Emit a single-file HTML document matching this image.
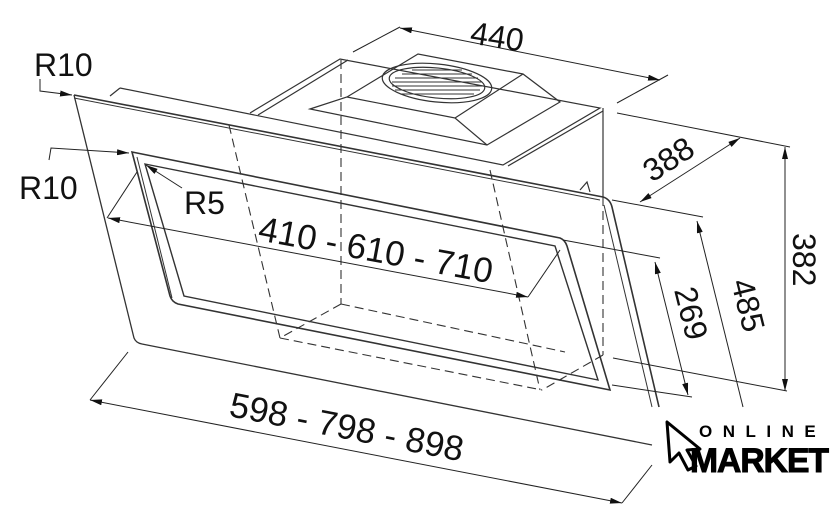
<!DOCTYPE html>
<html><head><meta charset="utf-8"><style>
html,body{margin:0;padding:0;background:#fff;}
svg{display:block;}
text{font-family:"Liberation Sans",sans-serif;fill:#111;}
</style></head><body>
<svg width="840" height="531" viewBox="0 0 840 531" xmlns="http://www.w3.org/2000/svg">
<defs>
<marker id="a" viewBox="0 0 12 6" refX="12" refY="3" markerWidth="12" markerHeight="6" orient="auto-start-reverse" markerUnits="userSpaceOnUse"><path d="M0,0 L12,3 L0,6 z" fill="#111"/></marker>
</defs>
<g fill="none" stroke="#333" stroke-width="1.2">
<path d="M120,88 L503,165 L600,108 L340,59 L250,113"/>
<path d="M348,60 L258,115"/>
<path d="M508,166 L603,111"/>
<path d="M110,96 L120,88"/>
<line x1="603" y1="108" x2="603" y2="197"/>
<path d="M580,190 L587,182 L590,192"/>
<path d="M310,109 L347,97 L418,54 L523,74 L560,102 L487,145 L310,109 Z"/>
<path d="M347,97 L455,118 L523,74"/>
<path d="M455,118 L487,145"/>
<ellipse cx="437" cy="83" rx="55" ry="19" transform="rotate(6 437 83)"/>
<ellipse cx="437" cy="83" rx="48" ry="15" transform="rotate(6 437 83)"/>
<g stroke-width="1">
<line x1="395" y1="78" x2="478" y2="78"/><line x1="392" y1="82" x2="482" y2="82"/>
<line x1="392" y1="86" x2="482" y2="86"/><line x1="395" y1="90" x2="480" y2="90"/>
<line x1="400" y1="94" x2="474" y2="94"/><line x1="402" y1="74" x2="472" y2="74"/>
<line x1="412" y1="70" x2="462" y2="70"/>
</g>
<g stroke-dasharray="9,5" stroke-width="1.1">
<line x1="229" y1="125" x2="280" y2="338"/>
<line x1="341" y1="60" x2="341" y2="304"/>
<line x1="341" y1="304" x2="565" y2="352"/>
<line x1="280" y1="338" x2="542" y2="390"/>
<line x1="341" y1="304" x2="280" y2="338"/>
<line x1="603" y1="197" x2="603" y2="355"/>
<line x1="603" y1="355" x2="542" y2="390"/>
<line x1="490" y1="170" x2="540" y2="390"/>
</g>
<path d="M74,95 L603,197 Q610,199 612,207 L659,407" stroke-width="1.6"/>
<path d="M74,98 L600,200" stroke-width="1"/>
<path d="M604,205 L652,407" stroke-width="1"/>
<path d="M74,95 L134,338 Q136,343 142,344 L652,445" stroke-width="1.3"/>
<path d="M132,152 L560,238 Q565,240 567,246 L610,390 L178,304 Q172,302 170,296 Z" stroke-width="1.6"/>
<path d="M145,164 L555,246 L598,380 L184,296 Z" stroke-width="1.4"/>
<path d="M137,157 L172,298" stroke-width="1"/>
<g stroke-width="1" stroke="#222">
<line x1="400" y1="28" x2="660" y2="80" marker-start="url(#a)" marker-end="url(#a)"/>
<line x1="353" y1="52" x2="400" y2="27"/>
<line x1="617" y1="103" x2="668" y2="75"/>
<line x1="640" y1="202" x2="740" y2="138" marker-start="url(#a)" marker-end="url(#a)"/>
<line x1="617" y1="113" x2="790" y2="147"/>
<line x1="612" y1="200" x2="703" y2="217"/>
<line x1="785" y1="147" x2="785" y2="391" marker-start="url(#a)" marker-end="url(#a)"/>
<line x1="613" y1="358" x2="787" y2="391"/>
<line x1="697" y1="221" x2="743" y2="407" marker-start="url(#a)"/>
<line x1="655" y1="262" x2="688" y2="395" marker-start="url(#a)" marker-end="url(#a)"/>
<line x1="563" y1="240" x2="660" y2="258"/>
<line x1="612" y1="385" x2="692" y2="397"/>
<line x1="108" y1="218" x2="528" y2="297" marker-start="url(#a)" marker-end="url(#a)"/>
<line x1="107" y1="218" x2="137" y2="172"/>
<line x1="528" y1="297" x2="560" y2="250"/>
<line x1="90" y1="400" x2="622" y2="503" marker-start="url(#a)" marker-end="url(#a)"/>
<line x1="90" y1="400" x2="128" y2="352"/>
<line x1="622" y1="503" x2="652" y2="465"/>
<path d="M40,79 L40,91 L72,95" marker-end="url(#a)"/>
<path d="M49,160 L51,148 L129,153" marker-end="url(#a)"/>
<line x1="182" y1="188" x2="146" y2="165" marker-end="url(#a)"/>
</g>
</g>
<g font-size="32">
<text x="34" y="76">R10</text>
<text x="19" y="199">R10</text>
<text x="184" y="214">R5</text>
<text x="470" y="48" transform="rotate(9 500 40)">440</text>
<text x="0" y="0" transform="translate(652,183) rotate(-33)">388</text>
<text x="0" y="0" transform="translate(793,233) rotate(90)">382</text>
<text x="0" y="0" transform="translate(731,282) rotate(76)">485</text>
<text x="0" y="0" transform="translate(674,290) rotate(76)">269</text>
<text x="0" y="0" transform="translate(257,240) rotate(10.5)" font-size="35">410 - 610 - 710</text>
<text x="0" y="0" transform="translate(228,416) rotate(11)" font-size="35">598 - 798 - 898</text>
</g>
<path d="M667,422 L670,462 L679,453 L688,470 L696,466 L687,450 L700,449 Z" fill="#fff" stroke="#000" stroke-width="3" stroke-linejoin="round"/>
<text x="699" y="437" font-size="17" font-weight="bold" letter-spacing="10.5" style="fill:#000">ONLINE</text>
<text x="690" y="472" font-size="34" font-weight="bold" letter-spacing="-1" style="fill:#000;stroke:#000;stroke-width:1" textLength="138" lengthAdjust="spacingAndGlyphs">MARKET</text>
</svg>
</body></html>
